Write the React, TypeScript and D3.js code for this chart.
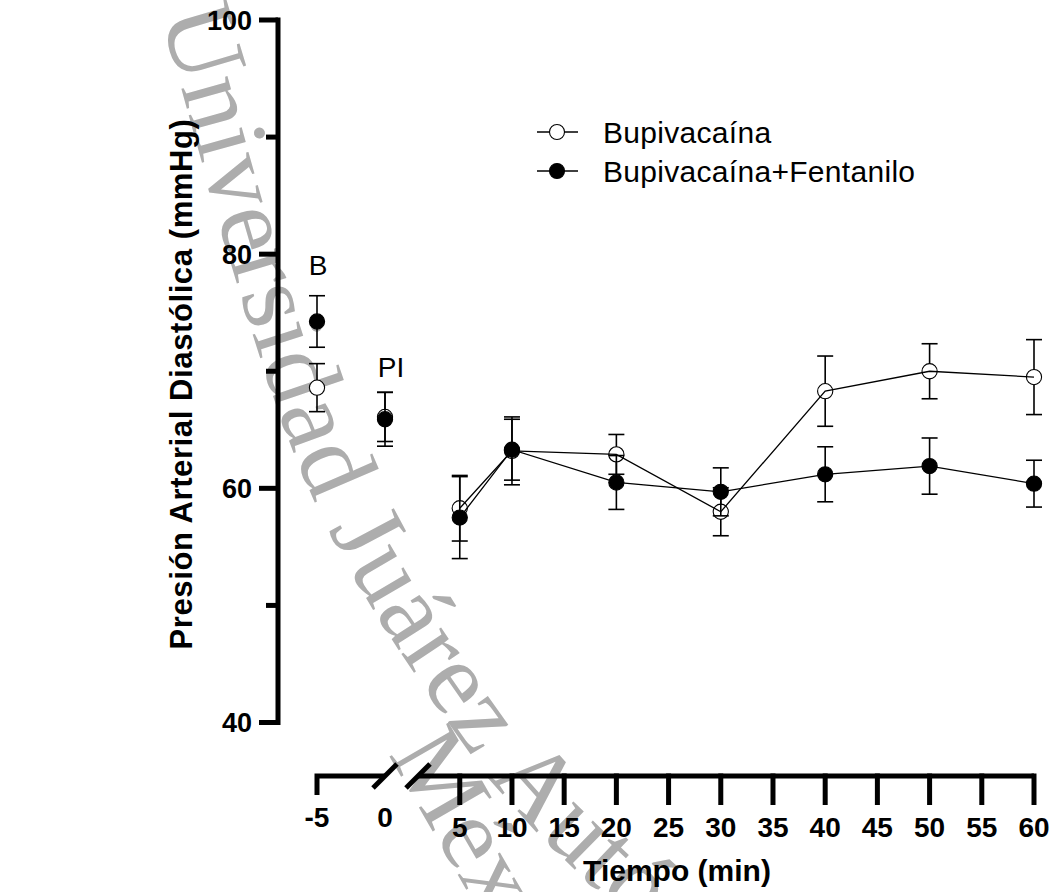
import React from 'react';
import * as d3 from 'd3';

// ---------- data ----------
const timePoints = [-5, 0, 5, 10, 20, 30, 40, 50, 60];
const bupiMean = [68.6, 66.1, 58.3, 63.2, 62.9, 58.0, 68.3, 70.0, 69.5];
const bupiSem = [2.05, 2.1, 2.8, 2.9, 1.7, 2.05, 3.0, 2.35, 3.2];
const fentMean = [74.25, 65.9, 57.5, 63.3, 60.5, 59.7, 61.2, 61.9, 60.4];
const fentSem = [2.2, 2.3, 3.5, 2.6, 2.3, 2.05, 2.35, 2.4, 2.0];
const seriesNames = ['Bupivacaína', 'Bupivacaína+Fentanilo'];
const yTicksAll = [40, 50, 60, 70, 80, 90, 100];
const yTicksLabeled = [40, 60, 80, 100];
const xTicksRight = [5, 10, 15, 20, 25, 30, 35, 40, 45, 50, 55, 60];
const xLabelsLeft = [-5, 0];
const phaseLabels = ['B', 'PI'];
const watermarkLines = ['Universidad Juárez Autónoma de Tabasco', 'México'];

const W = 1053;
const H = 892;
const FONT = '"Liberation Sans", Arial, Helvetica, sans-serif';

const xLeft = d3.scaleLinear().domain([-5, 0]).range([317, 385]);
const xRight = d3.scaleLinear().domain([1, 60]).range([418, 1034]);
const xPos = (t: number) => (t <= 0 ? xLeft(t) : xRight(t));
const y = d3.scaleLinear().domain([40, 100]).range([722.5, 20]);

const AXIS_Y = 776;
const AXIS_X = 278;
const R = 7.6;
const CAP = 8;

// guide curve for the watermark text (layout only)
const WM_GUIDE: [number, number][] = [
  [195, 5],
  [205, 40],
  [343, 477],
  [487, 715],
  [562, 806],
  [760, 990],
];
const wmPathD =
  d3.line().curve(d3.curveCatmullRom.alpha(0.5))(WM_GUIDE) || '';

function Series({ means, sems, filled }: { means: number[]; sems: number[]; filled: boolean }) {
  const idx = d3.range(2, timePoints.length);
  const line = d3
    .line<number>()
    .x((i) => xPos(timePoints[i]))
    .y((i) => y(means[i]));
  const bars = timePoints.map((t, i) => {
    const cx = xPos(t);
    const y1 = y(means[i] + sems[i]);
    const y2 = y(means[i] - sems[i]);
    return (
      <g key={'e' + i} stroke="#000" strokeWidth={1.6}>
        <line x1={cx} x2={cx} y1={y1} y2={y2} />
        <line x1={cx - CAP} x2={cx + CAP} y1={y1} y2={y1} />
        <line x1={cx - CAP} x2={cx + CAP} y1={y2} y2={y2} />
      </g>
    );
  });
  const dots = timePoints.map((t, i) => (
    <circle
      key={'c' + i}
      cx={xPos(t)}
      cy={y(means[i])}
      r={R}
      fill={filled ? '#000' : '#fff'}
      stroke="#000"
      strokeWidth={1.1}
    />
  ));
  const path = <path d={line(idx) || ''} fill="none" stroke="#000" strokeWidth={1.3} />;
  return filled ? (
    <g>
      {bars}
      {path}
      {dots}
    </g>
  ) : (
    <g>
      {bars}
      {dots}
      {path}
    </g>
  );
}

export default function App() {
  const slash = (cx: number) => (
    <line x1={cx - 12} y1={AXIS_Y + 12} x2={cx + 12} y2={AXIS_Y - 12} stroke="#000" strokeWidth={5} />
  );
  return (
    <svg
      width={W}
      height={H}
      viewBox={`0 0 ${W} ${H}`}
      style={{ position: 'absolute', left: 0, top: 0, background: '#fff' }}
    >
      <rect x={0} y={0} width={W} height={H} fill="#fff" />
      <defs>
        <path id="wmPath" d={wmPathD} fill="none" />
      </defs>
      {/* watermark */}
      <g fill="#adadad" fontFamily='"Liberation Serif", "Times New Roman", serif' fontSize={104}>
        <text dominantBaseline="central">
          <textPath href="#wmPath" startOffset={0}>
            {watermarkLines[0]}
          </textPath>
        </text>
        <text transform="translate(388,754) rotate(60)">{watermarkLines[1]}</text>
      </g>

      {/* Y axis */}
      <g stroke="#000" strokeWidth={5} fill="none">
        <line x1={AXIS_X} x2={AXIS_X} y1={y(100) - 2.5} y2={y(40) + 2.5} />
        {yTicksAll.map((v) => (
          <line
            key={v}
            x1={yTicksLabeled.includes(v) ? 259 : 266}
            x2={AXIS_X}
            y1={y(v)}
            y2={y(v)}
          />
        ))}
      </g>
      <g fontFamily={FONT} fontWeight="bold" fontSize={27} textAnchor="end" fill="#000">
        {yTicksLabeled.map((v) => (
          <text key={v} x={252} y={y(v)} dy="0.36em">
            {v}
          </text>
        ))}
      </g>
      <text
        transform="translate(192,384) rotate(-90)"
        fontFamily={FONT}
        fontWeight="bold"
        fontSize={31}
        letterSpacing={0.6}
        textAnchor="middle"
        fill="#000"
      >
        Presión Arterial Diastólica (mmHg)
      </text>

      {/* X axis */}
      <g stroke="#000" strokeWidth={5} fill="none">
        <path d={`M${xLeft(-5)},${AXIS_Y + 19} V${AXIS_Y} H${xLeft(0)}`} strokeLinejoin="miter" />
        <path d={`M${xRight(1)},${AXIS_Y} H${xRight(60)}`} />
        {xTicksRight.map((t) => (
          <line key={t} x1={xRight(t)} x2={xRight(t)} y1={AXIS_Y - 2.5} y2={AXIS_Y + 29} />
        ))}
      </g>
      {slash(xLeft(0))}
      {slash(xRight(1))}
      <g fontFamily={FONT} fontWeight="bold" fontSize={28} textAnchor="middle" fill="#000">
        {xLabelsLeft.map((t) => (
          <text key={t} x={xLeft(t)} y={827}>
            {t}
          </text>
        ))}
        {xTicksRight.map((t) => (
          <text key={t} x={xRight(t)} y={837}>
            {t}
          </text>
        ))}
      </g>
      <text x={677} y={881} fontFamily={FONT} fontWeight="bold" fontSize={30} textAnchor="middle" fill="#000">
        Tiempo (min)
      </text>

      {/* phase labels */}
      <g fontFamily={FONT} fontSize={28} textAnchor="middle" fill="#000">
        <text x={xPos(-5) + 1} y={y(fentMean[0] + fentSem[0]) - 21}>
          {phaseLabels[0]}
        </text>
        <text x={xPos(0) + 6} y={y(bupiMean[1] + bupiSem[1]) - 15}>
          {phaseLabels[1]}
        </text>
      </g>

      {/* data */}
      <Series means={bupiMean} sems={bupiSem} filled={false} />
      <Series means={fentMean} sems={fentSem} filled={true} />

      {/* legend */}
      {seriesNames.map((name, i) => {
        const ly = 132 + i * 39;
        return (
          <g key={name}>
            <line x1={537} x2={578} y1={ly} y2={ly} stroke="#000" strokeWidth={1.3} />
            <circle cx={557} cy={ly} r={7.5} fill={i === 0 ? '#fff' : '#000'} stroke="#000" strokeWidth={1.1} />
            <text x={603} y={ly} dy="0.36em" fontFamily={FONT} fontSize={30} letterSpacing={0.3} fill="#000">
              {name}
            </text>
          </g>
        );
      })}
    </svg>
  );
}
